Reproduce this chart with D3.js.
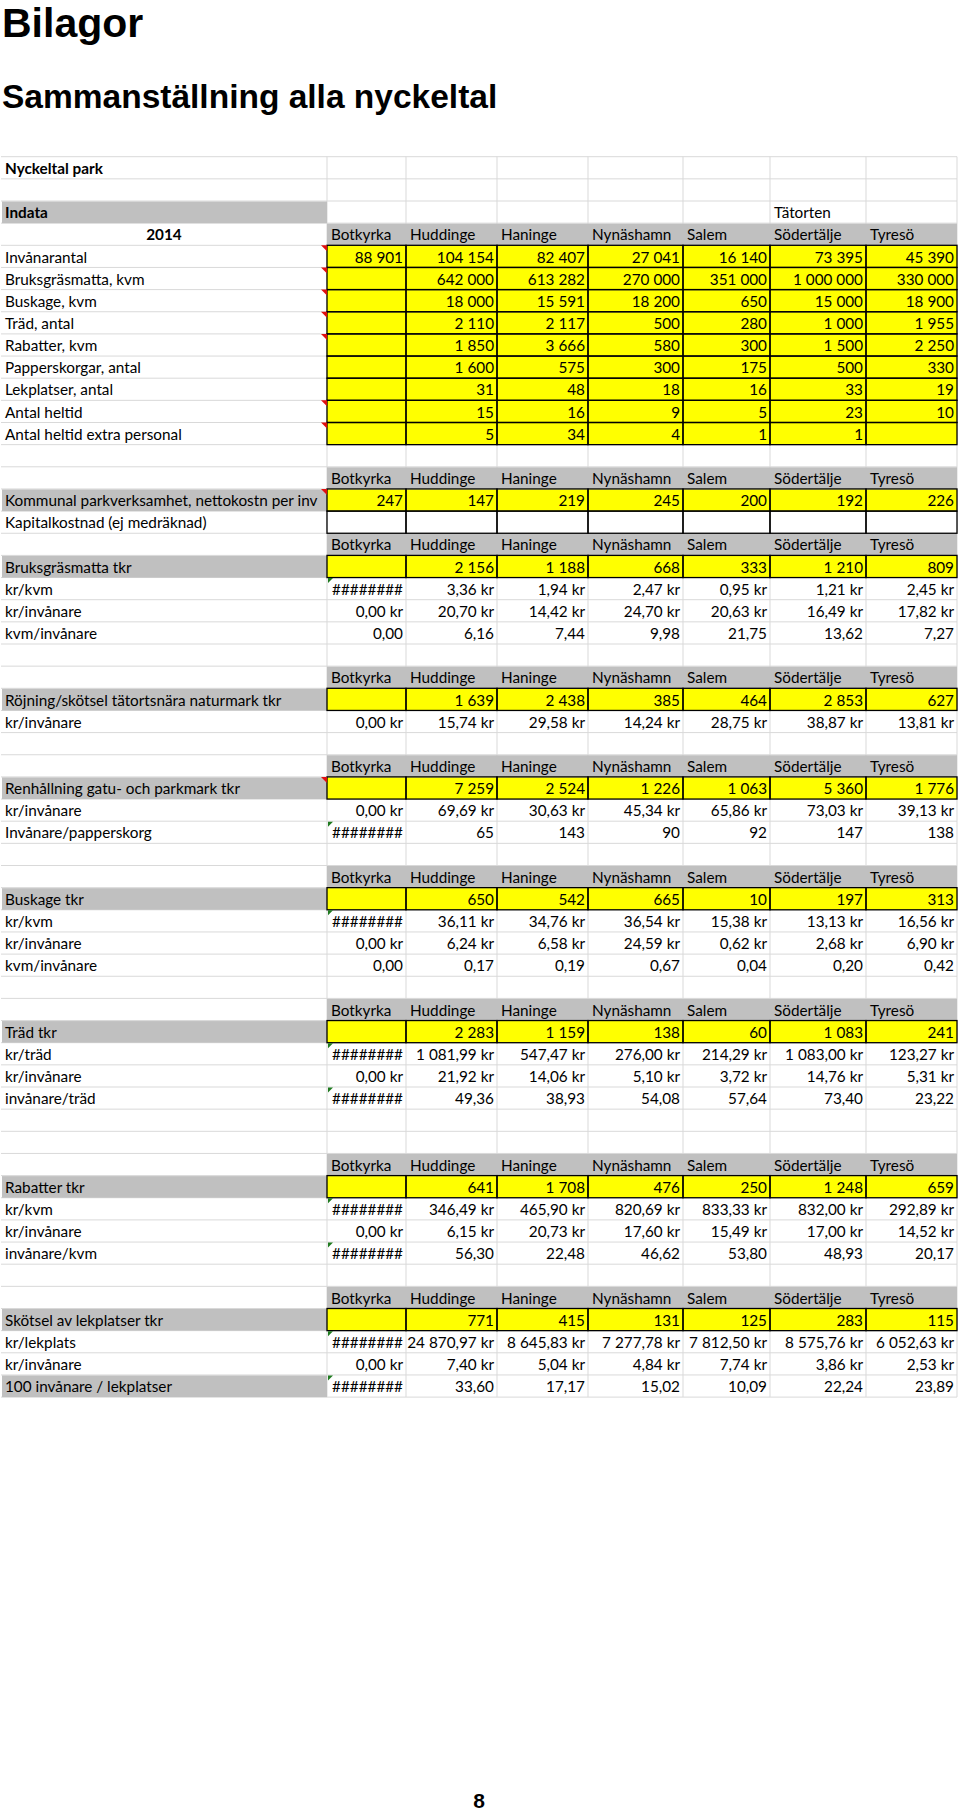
<!DOCTYPE html>
<html>
<head>
<meta charset="utf-8">
<script src="https://cdn.jsdelivr.net/npm/d3@7"></script>
<style>
  html, body { margin: 0; padding: 0; background: #fff; }
  svg { display: block; }
</style>
</head>
<body>
<script>
// ---------------- DATA ----------------
const municipalities = ["Botkyrka", "Huddinge", "Haninge", "Nynäshamn", "Salem", "Södertälje", "Tyresö"];
const yearLabel = "2014";

// Indata
const invanarantal       = [88901, 104154, 82407, 27041, 16140, 73395, 45390];
const bruksgrasmattaKvm  = [null, 642000, 613282, 270000, 351000, 1000000, 330000];
const buskageKvm         = [null, 18000, 15591, 18200, 650, 15000, 18900];
const tradAntal          = [null, 2110, 2117, 500, 280, 1000, 1955];
const rabatterKvm        = [null, 1850, 3666, 580, 300, 1500, 2250];
const papperskorgarAntal = [null, 1600, 575, 300, 175, 500, 330];
const lekplatserAntal    = [null, 31, 48, 18, 16, 33, 19];
const antalHeltid        = [null, 15, 16, 9, 5, 23, 10];
const antalHeltidExtra   = [null, 5, 34, 4, 1, 1, null];

// Kommunal parkverksamhet
const nettokostnPerInv = [247, 147, 219, 245, 200, 192, 226];
const kapitalkostnad   = [null, null, null, null, null, null, null];

// Bruksgräsmatta ("#" = cell shown as ########)
const bruksTkr    = [null, 2156, 1188, 668, 333, 1210, 809];
const bruksKrKvm  = ["#", 3.36, 1.94, 2.47, 0.95, 1.21, 2.45];
const bruksKrInv  = [0, 20.70, 14.42, 24.70, 20.63, 16.49, 17.82];
const bruksKvmInv = [0, 6.16, 7.44, 9.98, 21.75, 13.62, 7.27];

// Röjning
const rojningTkr   = [null, 1639, 2438, 385, 464, 2853, 627];
const rojningKrInv = [0, 15.74, 29.58, 14.24, 28.75, 38.87, 13.81];

// Renhållning
const renhallningTkr    = [null, 7259, 2524, 1226, 1063, 5360, 1776];
const renhallningKrInv  = [0, 69.69, 30.63, 45.34, 65.86, 73.03, 39.13];
const invPerPapperskorg = ["#", 65, 143, 90, 92, 147, 138];

// Buskage
const buskageTkr    = [null, 650, 542, 665, 10, 197, 313];
const buskageKrKvm  = ["#", 36.11, 34.76, 36.54, 15.38, 13.13, 16.56];
const buskageKrInv  = [0, 6.24, 6.58, 24.59, 0.62, 2.68, 6.90];
const buskageKvmInv = [0, 0.17, 0.19, 0.67, 0.04, 0.20, 0.42];

// Träd
const tradTkr    = [null, 2283, 1159, 138, 60, 1083, 241];
const tradKrTrad = ["#", 1081.99, 547.47, 276.00, 214.29, 1083.00, 123.27];
const tradKrInv  = [0, 21.92, 14.06, 5.10, 3.72, 14.76, 5.31];
const invPerTrad = ["#", 49.36, 38.93, 54.08, 57.64, 73.40, 23.22];

// Rabatter
const rabatterTkr    = [null, 641, 1708, 476, 250, 1248, 659];
const rabatterKrKvm  = ["#", 346.49, 465.90, 820.69, 833.33, 832.00, 292.89];
const rabatterKrInv  = [0, 6.15, 20.73, 17.60, 15.49, 17.00, 14.52];
const invPerKvmRabatt = ["#", 56.30, 22.48, 46.62, 53.80, 48.93, 20.17];

// Lekplatser
const lekTkr         = [null, 771, 415, 131, 125, 283, 115];
const lekKrLekplats  = ["#", 24870.97, 8645.83, 7277.78, 7812.50, 8575.76, 6052.63];
const lekKrInv       = [0, 7.40, 5.04, 4.84, 7.74, 3.86, 2.53];
const inv100PerLek   = ["#", 33.60, 17.17, 15.02, 10.09, 22.24, 23.89];

// ---------------- SHEET STRUCTURE ----------------
const H = (label) => ({ kind: "head", label });
const B = () => ({ kind: "blank" });
const rows = [
  { kind: "bold", label: "Nyckeltal park" },
  B(),
  { kind: "indata", label: "Indata", extra: { col: 5, text: "Tätorten" } },
  H(yearLabel),
  { kind: "input", label: "Invånarantal", values: invanarantal, fmt: "int", note: "red" },
  { kind: "input", label: "Bruksgräsmatta, kvm", values: bruksgrasmattaKvm, fmt: "int", note: "red" },
  { kind: "input", label: "Buskage, kvm", values: buskageKvm, fmt: "int", note: "red" },
  { kind: "input", label: "Träd, antal", values: tradAntal, fmt: "int", note: "red" },
  { kind: "input", label: "Rabatter, kvm", values: rabatterKvm, fmt: "int", note: "red" },
  { kind: "input", label: "Papperskorgar, antal", values: papperskorgarAntal, fmt: "int" },
  { kind: "input", label: "Lekplatser, antal", values: lekplatserAntal, fmt: "int" },
  { kind: "input", label: "Antal heltid", values: antalHeltid, fmt: "int", note: "red" },
  { kind: "input", label: "Antal heltid extra personal", values: antalHeltidExtra, fmt: "int", note: "red" },
  B(),
  H(""),
  { kind: "section", label: "Kommunal parkverksamhet, nettokostn per inv", values: nettokostnPerInv, fmt: "int", note: "red" },
  { kind: "boxed", label: "Kapitalkostnad (ej medräknad)", values: kapitalkostnad, fmt: "int" },
  H(""),
  { kind: "section", label: "Bruksgräsmatta tkr", values: bruksTkr, fmt: "int" },
  { kind: "calc", label: "kr/kvm", values: bruksKrKvm, fmt: "kr", note: "green" },
  { kind: "calc", label: "kr/invånare", values: bruksKrInv, fmt: "kr" },
  { kind: "calc", label: "kvm/invånare", values: bruksKvmInv, fmt: "dec" },
  B(),
  H(""),
  { kind: "section", label: "Röjning/skötsel tätortsnära naturmark tkr", values: rojningTkr, fmt: "int" },
  { kind: "calc", label: "kr/invånare", values: rojningKrInv, fmt: "kr" },
  B(),
  H(""),
  { kind: "section", label: "Renhållning gatu- och parkmark tkr", values: renhallningTkr, fmt: "int", note: "red" },
  { kind: "calc", label: "kr/invånare", values: renhallningKrInv, fmt: "kr" },
  { kind: "calc", label: "Invånare/papperskorg", values: invPerPapperskorg, fmt: "int", note: "green" },
  B(),
  H(""),
  { kind: "section", label: "Buskage tkr", values: buskageTkr, fmt: "int" },
  { kind: "calc", label: "kr/kvm", values: buskageKrKvm, fmt: "kr", note: "green" },
  { kind: "calc", label: "kr/invånare", values: buskageKrInv, fmt: "kr" },
  { kind: "calc", label: "kvm/invånare", values: buskageKvmInv, fmt: "dec" },
  B(),
  H(""),
  { kind: "section", label: "Träd tkr", values: tradTkr, fmt: "int" },
  { kind: "calc", label: "kr/träd", values: tradKrTrad, fmt: "kr", note: "green" },
  { kind: "calc", label: "kr/invånare", values: tradKrInv, fmt: "kr" },
  { kind: "calc", label: "invånare/träd", values: invPerTrad, fmt: "dec", note: "green" },
  B(),
  B(),
  H(""),
  { kind: "section", label: "Rabatter tkr", values: rabatterTkr, fmt: "int" },
  { kind: "calc", label: "kr/kvm", values: rabatterKrKvm, fmt: "kr", note: "green" },
  { kind: "calc", label: "kr/invånare", values: rabatterKrInv, fmt: "kr" },
  { kind: "calc", label: "invånare/kvm", values: invPerKvmRabatt, fmt: "dec", note: "green" },
  B(),
  H(""),
  { kind: "section", label: "Skötsel av lekplatser tkr", values: lekTkr, fmt: "int" },
  { kind: "calc", label: "kr/lekplats", values: lekKrLekplats, fmt: "kr", note: "green" },
  { kind: "calc", label: "kr/invånare", values: lekKrInv, fmt: "kr" },
  { kind: "calcGray", label: "100 invånare / lekplatser", values: inv100PerLek, fmt: "dec", note: "green" }
];

// ---------------- RENDERING ----------------
const W = 960, HGT = 1812;
const svg = d3.select("body").append("svg").attr("width", W).attr("height", HGT);
svg.append("rect").attr("width", W).attr("height", HGT).attr("fill", "#fff");

const cellFont = "Lato, 'Open Sans', sans-serif";
const cellSize = 15.3;
const GRAY = "#c0c0c0", YELLOW = "#ffff00", GRID = "#d9d9d9";

// Swedish number formatting
const sv = d3.formatLocale({ decimal: ",", thousands: "\u00a0", grouping: [3], currency: ["", "\u00a0kr"] });
const formats = { int: sv.format(",d"), kr: sv.format("$,.2f"), dec: sv.format(",.2f") };
const fmtValue = (v, f) => v === null || v === undefined ? "" : (v === "#" ? "########" : formats[f](v));

// Scales
const y = d3.scaleLinear().domain([0, rows.length]).range([156.7, 156.7 + rows.length * 22.15]);
const colKeys = ["label", ...municipalities];
const colLeft = d3.scaleOrdinal().domain([...colKeys, "end"]).range([1, 327, 406, 497, 588, 683, 770, 866, 957]);
const colRight = k => colLeft(colKeys[colKeys.indexOf(k) + 1] || "end");
const rowH = y(1) - y(0);

// Titles
svg.append("text").attr("x", 2).attr("y", 37)
  .attr("font-family", "'Liberation Sans', Arial, sans-serif").attr("font-weight", "bold")
  .attr("font-size", 41).text("Bilagor");
svg.append("text").attr("x", 2).attr("y", 108)
  .attr("font-family", "'Liberation Sans', Arial, sans-serif").attr("font-weight", "bold")
  .attr("font-size", 33.5).text("Sammanställning alla nyckeltal");

// Gridlines
const grid = svg.append("g").attr("stroke", GRID).attr("stroke-width", 1);
grid.selectAll("line.h").data(d3.range(rows.length + 1)).join("line")
  .attr("class", "h")
  .attr("x1", colLeft("label")).attr("x2", colLeft("end"))
  .attr("y1", i => y(i)).attr("y2", i => y(i));
grid.selectAll("line.v").data([...municipalities, "end"]).join("line")
  .attr("class", "v")
  .attr("x1", k => colLeft(k)).attr("x2", k => colLeft(k))
  .attr("y1", y(0)).attr("y2", y(rows.length));

// Cell model
const cells = [];
rows.forEach((r, i) => {
  let labelFill = null;
  if (r.kind === "indata" || r.kind === "section" || r.kind === "calcGray") labelFill = GRAY;
  cells.push({ row: i, col: "label", fill: labelFill, border: false });
  municipalities.forEach((m, j) => {
    let fill = null, border = false, text = "", align = "end";
    if (r.kind === "head") { fill = GRAY; text = m; align = "start"; }
    else if (r.kind === "input" || r.kind === "section") { fill = YELLOW; border = true; text = fmtValue(r.values[j], r.fmt); }
    else if (r.kind === "boxed") { fill = "#fff"; border = true; text = fmtValue(r.values[j], r.fmt); }
    else if (r.kind === "calc" || r.kind === "calcGray") { text = fmtValue(r.values[j], r.fmt); }
    else if (r.kind === "indata" && r.extra && r.extra.col === j) { text = r.extra.text; align = "start"; }
    cells.push({ row: i, col: m, fill, border, text, align });
  });
});

// Fills
svg.append("g").selectAll("rect").data(cells.filter(c => c.fill)).join("rect")
  .attr("x", c => colLeft(c.col) + (c.col === "label" ? 1 : 0))
  .attr("y", c => y(c.row) + 0.5)
  .attr("width", c => colRight(c.col) - colLeft(c.col) - (c.col === "label" ? 1 : 0))
  .attr("height", rowH - 0.5)
  .attr("fill", c => c.fill);

// Black borders
svg.append("g").selectAll("rect").data(cells.filter(c => c.border)).join("rect")
  .attr("x", c => colLeft(c.col))
  .attr("y", c => y(c.row))
  .attr("width", c => colRight(c.col) - colLeft(c.col))
  .attr("height", rowH)
  .attr("fill", "none").attr("stroke", "#000").attr("stroke-width", 1.3);

// Label texts
const lbl = svg.append("g").attr("font-family", cellFont).attr("font-size", cellSize).attr("fill", "#000");
lbl.selectAll("text").data(rows.map((r, i) => ({ r, i })).filter(d => d.r.label)).join("text")
  .attr("x", d => d.r.kind === "head" ? (colLeft("label") + colLeft("Botkyrka")) / 2 : colLeft("label") + 4)
  .attr("y", d => y(d.i) + 17.2)
  .attr("text-anchor", d => d.r.kind === "head" ? "middle" : "start")
  .attr("font-weight", d => (d.r.kind === "bold" || d.r.kind === "indata" || d.r.kind === "head") ? "bold" : "normal")
  .text(d => d.r.label);

// Value texts
svg.append("g").attr("font-family", cellFont).attr("font-size", cellSize).attr("fill", "#000")
  .selectAll("text").data(cells.filter(c => c.text)).join("text")
  .attr("x", c => c.align === "start" ? colLeft(c.col) + 4 : colRight(c.col) - 3)
  .attr("y", c => y(c.row) + 17.2)
  .attr("text-anchor", c => c.align)
  .text(c => c.text);

// Comment / error indicators
const notes = svg.append("g");
rows.forEach((r, i) => {
  const x = colLeft("Botkyrka"), t = y(i);
  if (r.note === "red") {
    notes.append("path").attr("d", `M${x - 6},${t}L${x},${t}L${x},${t + 6}Z`).attr("fill", "#e01010");
  } else if (r.note === "green") {
    notes.append("path").attr("d", `M${x + 1},${t + 0.5}L${x + 6},${t + 0.5}L${x + 1},${t + 5.5}Z`).attr("fill", "#1f7a1f");
  }
});

// Page number
svg.append("text").attr("x", 479).attr("y", 1808).attr("text-anchor", "middle")
  .attr("font-family", "'Liberation Sans', Arial, sans-serif").attr("font-weight", "bold")
  .attr("font-size", 21).text("8");
</script>
</body>
</html>
